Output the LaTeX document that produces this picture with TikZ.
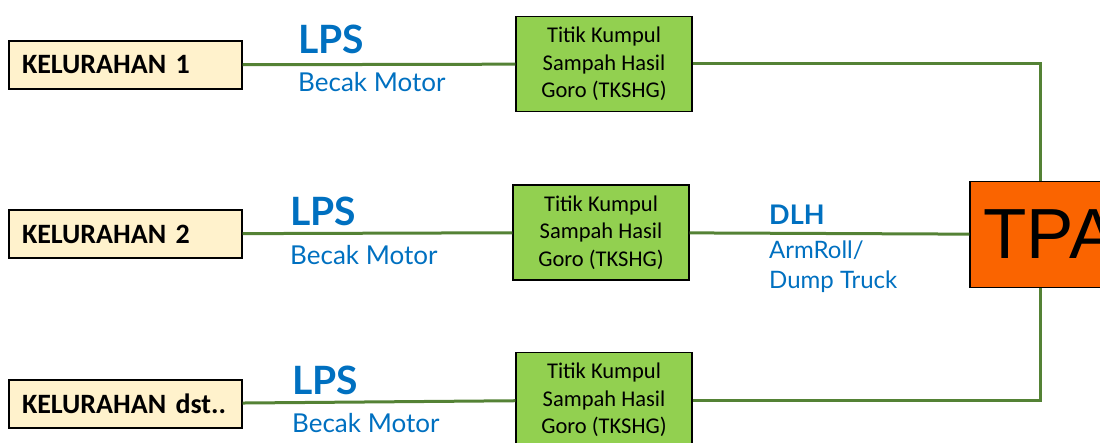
\documentclass[tikz,border=0pt]{standalone}
\usepackage{fontspec}
\setmainfont{Carlito}
\newfontfamily\latofont{Lato}
\newfontfamily\arialfont{Liberation Sans}
\usepackage{tikz}
\usetikzlibrary{positioning}
\usetikzlibrary{calc}
\definecolor{kelFill}{HTML}{FFF2CC}
\definecolor{tkFill}{HTML}{92D050}
\definecolor{tpaFill}{HTML}{FA6400}
\definecolor{routeGreen}{HTML}{548235}
\definecolor{labelBlue}{HTML}{0070C0}

\begin{document}
\begin{tikzpicture}[
    x=1pt, y=-1pt,
    kelBox/.style={
        rectangle, draw, line width=1.4pt, fill=kelFill,
        minimum width=233pt, minimum height=48pt,
        inner xsep=13pt, text width=207pt, align=left,
        font=\fontsize{28}{32}\selectfont\bfseries
    },
    tkshgBox/.style={
        rectangle, draw, line width=1.4pt, fill=tkFill,
        minimum width=176pt, minimum height=95pt,
        font=\fontsize{22.5}{27.5}\selectfont,
        align=center
    },
    tpaBox/.style={
        rectangle, draw, line width=1.4pt, fill=tpaFill,
        minimum width=160pt, minimum height=106pt,
        font=\arialfont\fontsize{71}{75}\selectfont
    },
    routeLine/.style={draw=routeGreen, line width=3pt},
    topLabel/.style={anchor=base west, inner sep=0pt, text=labelBlue,
        font=\latofont\fontsize{39}{44}\selectfont\bfseries},
    subLabel/.style={anchor=base west, inner sep=0pt, text=labelBlue,
        font=\latofont\fontsize{26}{32}\selectfont}
]
\useasboundingbox (0,0) rectangle (1100,443);

% kelurahan
\node[kelBox] (kel1) at (125.5,65) {KELURAHAN 1};
\node[kelBox] (kel2) at (125.5,234) {KELURAHAN 2};
\node[kelBox] (kel3) at (125.5,404) {KELURAHAN dst..};

% titik kumpul
\node[tkshgBox] (tk1) at (604,64) {Titik Kumpul\\Sampah Hasil\\Goro (TKSHG)};
\node[tkshgBox] (tk2) at (601,232.5) {Titik Kumpul\\Sampah Hasil\\Goro (TKSHG)};
\node[tkshgBox] (tk3) at (604,400) {Titik Kumpul\\Sampah Hasil\\Goro (TKSHG)};

\node[tpaBox] (tpa) at (1050,234.5) {TPA};
\coordinate (tpaTop) at ($(tpa.north)+(-10,0)$);
\coordinate (tpaBot) at ($(tpa.south)+(-10,0)$);

\draw[routeLine] (kel1) -- (tk1);
\draw[routeLine] (kel2) -- (tk2);
\draw[routeLine] (kel3) -- (tk3);
\draw[routeLine] (tk1.east) -| (tpaTop);
\draw[routeLine] (tk2) -- (tpa);
\draw[routeLine] (tk3.east) -| (tpaBot);

% labels
\node[topLabel] (lps1) at (298,54) {LPS};
\node[subLabel] (becak1) at (298,92) {Becak Motor};
\node[topLabel] (lps2) at (290,226) {LPS};
\node[subLabel] (becak2) at (290,265) {Becak Motor};
\node[topLabel] (lps3) at (292,394) {LPS};
\node[subLabel] (becak3) at (292,432) {Becak Motor};
\node[topLabel, font=\latofont\fontsize{27}{30}\selectfont\bfseries] (dlh) at (769,225) {DLH};
\node[subLabel, font=\latofont\fontsize{24}{30}\selectfont] (armroll) at (769,259) {ArmRoll/};
\node[subLabel, font=\latofont\fontsize{24}{30}\selectfont] (dump) at (769,289) {Dump Truck};
\end{tikzpicture}
\end{document}
